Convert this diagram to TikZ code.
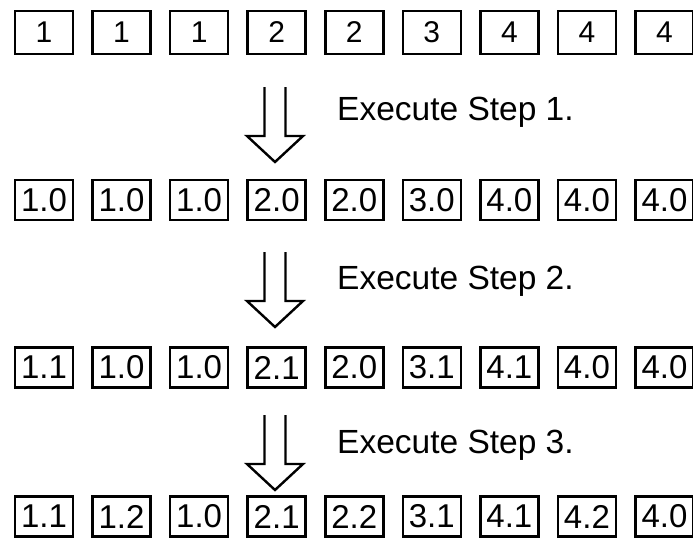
\documentclass[tikz,border=0pt]{standalone}
\usepackage{fontspec}
\setmainfont{Liberation Sans}
\begin{document}
\begin{tikzpicture}[x=1pt,y=-1pt,
  cell/.style={draw=black, line width=2.6pt, minimum width=58pt, inner sep=0pt,
    font=\fontsize{33}{33}\selectfont},
  cellA/.style={cell, minimum height=43pt, font=\fontsize{30}{30}\selectfont},
  cellB/.style={cell, minimum height=40pt},
  steplabel/.style={anchor=base west, inner sep=0pt, font=\fontsize{33.5}{34}\selectfont},
  hollow/.style={draw=black, line width=2.4pt, line join=miter}]
\useasboundingbox (0,0) rectangle (693,538);

% four rows of cells
\foreach \v [count=\i] in {1,1,1,2,2,3,4,4,4}
  \node[cellA] (a\i) at ({44+77.56*(\i-1)},32.5) {\v};
\foreach \v [count=\i] in {1.0,1.0,1.0,2.0,2.0,3.0,4.0,4.0,4.0}
  \node[cellB] (b\i) at ({44+77.56*(\i-1)},200) {\v};
\foreach \v [count=\i] in {1.1,1.0,1.0,2.1,2.0,3.1,4.1,4.0,4.0}
  \node[cellB] (c\i) at ({44+77.56*(\i-1)},367.5) {\v};
\foreach \v [count=\i] in {1.1,1.2,1.0,2.1,2.2,3.1,4.1,4.2,4.0}
  \node[cellB] (d\i) at ({44+77.56*(\i-1)},516.5) {\v};

% hollow arrows: top of shaft and tip of head
\coordinate (s1) at (275,87);  \coordinate (t1) at (275,162);
\coordinate (s2) at (275,252); \coordinate (t2) at (275,327);
\coordinate (s3) at (275,415); \coordinate (t3) at (275,490);
\foreach \k in {1,2,3}
  \draw[hollow] ([xshift=-10.5pt]s\k) -- ([xshift=-10.5pt,yshift=26pt]t\k)
    -- ([xshift=-28pt,yshift=26pt]t\k) -- (t\k)
    -- ([xshift=28pt,yshift=26pt]t\k) -- ([xshift=10.5pt,yshift=26pt]t\k)
    -- ([xshift=10.5pt]s\k);

% step labels
\node[steplabel] (l1) at (337,120) {Execute Step 1.};
\node[steplabel] (l2) at (337,289) {Execute Step 2.};
\node[steplabel] (l3) at (337,453) {Execute Step 3.};
\end{tikzpicture}
\end{document}
